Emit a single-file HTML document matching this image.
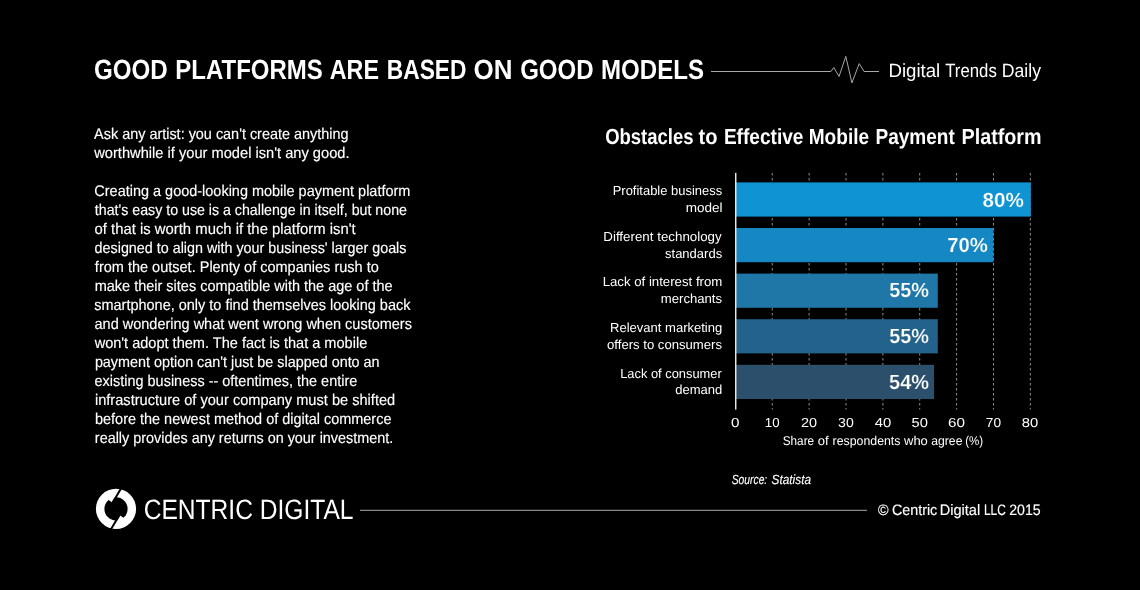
<!DOCTYPE html>
<html lang="en">
<head>
<meta charset="utf-8">
<title>Good Platforms Are Based on Good Models</title>
<style>
html,body{margin:0;padding:0;background:#000;}
body{width:1140px;height:590px;overflow:hidden;}
svg{display:block;}
text{font-family:"Liberation Sans", Arial, sans-serif;fill:#fff;white-space:pre;text-rendering:geometricPrecision;}
text.m{stroke:#fff;stroke-width:0.15px;}
</style>
</head>
<body>
<svg width="1140" height="590" viewBox="0 0 1140 590">
<rect width="1140" height="590" fill="#000"/>
<g id="header">
<text id="title" y="79.00" font-size="27.8" font-weight="bold"><tspan id="title_0" x="93.93" textLength="73.85" lengthAdjust="spacingAndGlyphs">GOOD</tspan> <tspan id="title_1" x="175.29" textLength="147.57" lengthAdjust="spacingAndGlyphs">PLATFORMS</tspan> <tspan id="title_2" x="329.70" textLength="49.27" lengthAdjust="spacingAndGlyphs">ARE</tspan> <tspan id="title_3" x="386.80" textLength="79.69" lengthAdjust="spacingAndGlyphs">BASED</tspan> <tspan id="title_4" x="473.50" textLength="38.92" lengthAdjust="spacingAndGlyphs">ON</tspan> <tspan id="title_5" x="520.13" textLength="73.52" lengthAdjust="spacingAndGlyphs">GOOD</tspan> <tspan id="title_6" x="601.01" textLength="103.04" lengthAdjust="spacingAndGlyphs">MODELS</tspan></text>
<polyline fill="none" stroke="#a8a8a8" stroke-width="1" stroke-linejoin="miter" points="711,71.5 830.9,71.5 833.8,67.5 839,76.5 845.8,56.4 851.9,82.9 859.2,63.6 864.1,71.5 879,71.5"/>
<text id="dtd" y="77.05" font-size="19.1" class="s"><tspan id="dtd_0" x="888.42" textLength="51.85" lengthAdjust="spacingAndGlyphs">Digital</tspan> <tspan id="dtd_1" x="945.24" textLength="51.55" lengthAdjust="spacingAndGlyphs">Trends</tspan> <tspan id="dtd_2" x="1001.82" textLength="39.15" lengthAdjust="spacingAndGlyphs">Daily</tspan></text>
</g>
<g id="article">
<text id="b0" x="94.10" y="138.85" font-size="15.4" textLength="254.40" lengthAdjust="spacingAndGlyphs" class="m">Ask any artist: you can't create anything</text>
<text id="b1" x="94.25" y="157.85" font-size="15.4" textLength="255.29" lengthAdjust="spacingAndGlyphs" class="m">worthwhile if your model isn't any good.</text>
<text id="b2" x="94.36" y="195.85" font-size="15.4" textLength="316.00" lengthAdjust="spacingAndGlyphs" class="m">Creating a good-looking mobile payment platform</text>
<text id="b3" x="94.82" y="214.85" font-size="15.4" textLength="312.15" lengthAdjust="spacingAndGlyphs" class="m">that's easy to use is a challenge in itself, but none</text>
<text id="b4" x="94.57" y="233.85" font-size="15.4" textLength="261.18" lengthAdjust="spacingAndGlyphs" class="m">of that is worth much if the platform isn't</text>
<text id="b5" x="94.62" y="252.85" font-size="15.4" textLength="311.84" lengthAdjust="spacingAndGlyphs" class="m">designed to align with your business' larger goals</text>
<text id="b6" x="94.85" y="271.85" font-size="15.4" textLength="283.93" lengthAdjust="spacingAndGlyphs" class="m">from the outset. Plenty of companies rush to</text>
<text id="b7" x="94.70" y="290.85" font-size="15.4" textLength="297.93" lengthAdjust="spacingAndGlyphs" class="m">make their sites compatible with the age of the</text>
<text id="b8" x="94.25" y="309.85" font-size="15.4" textLength="316.17" lengthAdjust="spacingAndGlyphs" class="m">smartphone, only to find themselves looking back</text>
<text id="b9" x="94.54" y="328.85" font-size="15.4" textLength="317.40" lengthAdjust="spacingAndGlyphs" class="m">and wondering what went wrong when customers</text>
<text id="b10" x="94.64" y="347.85" font-size="15.4" textLength="272.61" lengthAdjust="spacingAndGlyphs" class="m">won't adopt them. The fact is that a mobile</text>
<text id="b11" x="94.89" y="366.85" font-size="15.4" textLength="284.71" lengthAdjust="spacingAndGlyphs" class="m">payment option can't just be slapped onto an</text>
<text id="b12" x="94.56" y="385.85" font-size="15.4" textLength="262.73" lengthAdjust="spacingAndGlyphs" class="m">existing business -- oftentimes, the entire</text>
<text id="b13" x="94.95" y="404.85" font-size="15.4" textLength="300.27" lengthAdjust="spacingAndGlyphs" class="m">infrastructure of your company must be shifted</text>
<text id="b14" x="95.00" y="423.85" font-size="15.4" textLength="296.44" lengthAdjust="spacingAndGlyphs" class="m">before the newest method of digital commerce</text>
<text id="b15" x="94.86" y="442.85" font-size="15.4" textLength="298.37" lengthAdjust="spacingAndGlyphs" class="m">really provides any returns on your investment.</text>
</g>
<g id="chart">
<text id="ctitle" y="144.00" font-size="21.9" font-weight="bold"><tspan id="ctitle_0" x="605.19" textLength="88.31" lengthAdjust="spacingAndGlyphs">Obstacles</tspan> <tspan id="ctitle_1" x="698.60" textLength="18.96" lengthAdjust="spacingAndGlyphs">to</tspan> <tspan id="ctitle_2" x="723.90" textLength="79.57" lengthAdjust="spacingAndGlyphs">Effective</tspan> <tspan id="ctitle_3" x="808.72" textLength="60.38" lengthAdjust="spacingAndGlyphs">Mobile</tspan> <tspan id="ctitle_4" x="875.49" textLength="79.28" lengthAdjust="spacingAndGlyphs">Payment</tspan> <tspan id="ctitle_5" x="961.59" textLength="80.00" lengthAdjust="spacingAndGlyphs">Platform</tspan></text>
<path d="M772.25 173V409.5M809.12 173V409.5M845.99 173V409.5M882.86 173V409.5M919.73 173V409.5M956.60 173V409.5M993.47 173V409.5M1030.34 173V409.5" stroke="#fff" stroke-opacity="0.56" stroke-width="1" stroke-dasharray="2.5 2.5" fill="none"/>
<rect x="735.5" y="182.40" width="295.30" height="34.2" fill="#0f93d3"/>
<rect x="735.5" y="228.00" width="257.80" height="34.2" fill="#1587c3"/>
<rect x="735.5" y="273.60" width="202.30" height="34.2" fill="#1e77a7"/>
<rect x="735.5" y="319.20" width="202.30" height="34.2" fill="#23628a"/>
<rect x="735.5" y="364.80" width="198.60" height="34.2" fill="#2c506c"/>
<rect x="735" y="172.9" width="1.45" height="236.7" fill="#e8e8e8"/>
<text id="l0" x="612.71" y="195.00" font-size="13.1" textLength="109.47" lengthAdjust="spacingAndGlyphs" class="s">Profitable business</text>
<text id="l1" x="685.68" y="212.10" font-size="13.1" textLength="36.81" lengthAdjust="spacingAndGlyphs" class="s">model</text>
<text id="l2" x="603.30" y="241.10" font-size="13.1" textLength="118.43" lengthAdjust="spacingAndGlyphs" class="s">Different technology</text>
<text id="l3" x="665.04" y="258.10" font-size="13.1" textLength="57.11" lengthAdjust="spacingAndGlyphs" class="s">standards</text>
<text id="l4" x="602.63" y="286.00" font-size="13.1" textLength="119.70" lengthAdjust="spacingAndGlyphs" class="s">Lack of interest from</text>
<text id="l5" x="660.80" y="302.80" font-size="13.1" textLength="61.29" lengthAdjust="spacingAndGlyphs" class="s">merchants</text>
<text id="l6" x="610.02" y="332.00" font-size="13.1" textLength="112.24" lengthAdjust="spacingAndGlyphs" class="s">Relevant marketing</text>
<text id="l7" x="607.07" y="348.90" font-size="13.1" textLength="114.94" lengthAdjust="spacingAndGlyphs" class="s">offers to consumers</text>
<text id="l8" x="620.15" y="377.90" font-size="13.1" textLength="101.55" lengthAdjust="spacingAndGlyphs" class="s">Lack of consumer</text>
<text id="l9" x="675.26" y="393.90" font-size="13.1" textLength="46.96" lengthAdjust="spacingAndGlyphs" class="s">demand</text>
<text id="v0" x="982.64" y="206.90" font-size="20.5" textLength="41.29" lengthAdjust="spacingAndGlyphs" font-weight="bold" stroke="#0f93d3" stroke-width="0.22">80%</text>
<text id="v1" x="947.13" y="251.70" font-size="20.5" textLength="40.62" lengthAdjust="spacingAndGlyphs" font-weight="bold" stroke="#1587c3" stroke-width="0.22">70%</text>
<text id="v2" x="889.24" y="296.80" font-size="20.5" textLength="39.73" lengthAdjust="spacingAndGlyphs" font-weight="bold" stroke="#1e77a7" stroke-width="0.22">55%</text>
<text id="v3" x="889.31" y="342.80" font-size="20.5" textLength="39.70" lengthAdjust="spacingAndGlyphs" font-weight="bold" stroke="#23628a" stroke-width="0.22">55%</text>
<text id="v4" x="889.09" y="389.20" font-size="20.5" textLength="39.88" lengthAdjust="spacingAndGlyphs" font-weight="bold" stroke="#2c506c" stroke-width="0.22">54%</text>
<text id="t0" x="731.13" y="426.85" font-size="13.0" textLength="8.48" lengthAdjust="spacingAndGlyphs" class="s">0</text>
<text id="t1" x="764.83" y="426.85" font-size="13.0" textLength="14.76" lengthAdjust="spacingAndGlyphs" class="s">10</text>
<text id="t2" x="801.09" y="426.85" font-size="13.0" textLength="16.06" lengthAdjust="spacingAndGlyphs" class="s">20</text>
<text id="t3" x="838.11" y="426.85" font-size="13.0" textLength="15.62" lengthAdjust="spacingAndGlyphs" class="s">30</text>
<text id="t4" x="874.65" y="426.85" font-size="13.0" textLength="16.51" lengthAdjust="spacingAndGlyphs" class="s">40</text>
<text id="t5" x="911.52" y="426.85" font-size="13.0" textLength="16.37" lengthAdjust="spacingAndGlyphs" class="s">50</text>
<text id="t6" x="948.14" y="426.85" font-size="13.0" textLength="16.96" lengthAdjust="spacingAndGlyphs" class="s">60</text>
<text id="t7" x="985.88" y="426.85" font-size="13.0" textLength="15.20" lengthAdjust="spacingAndGlyphs" class="s">70</text>
<text id="t8" x="1021.83" y="426.85" font-size="13.0" textLength="16.49" lengthAdjust="spacingAndGlyphs" class="s">80</text>
<text id="xlab" y="444.90" font-size="12.7" class="s"><tspan id="xlab_0" x="782.73" textLength="31.36" lengthAdjust="spacingAndGlyphs">Share</tspan> <tspan id="xlab_1" x="817.89" textLength="10.84" lengthAdjust="spacingAndGlyphs">of</tspan> <tspan id="xlab_2" x="832.56" textLength="67.93" lengthAdjust="spacingAndGlyphs">respondents</tspan> <tspan id="xlab_3" x="904.02" textLength="23.83" lengthAdjust="spacingAndGlyphs">who</tspan> <tspan id="xlab_4" x="931.28" textLength="31.15" lengthAdjust="spacingAndGlyphs">agree</tspan> <tspan id="xlab_5" x="965.19" textLength="18.00" lengthAdjust="spacingAndGlyphs">(%)</tspan></text>
<text id="src" y="484.00" font-size="13.3" font-style="italic" class="m"><tspan id="src_0" x="731.69" textLength="35.55" lengthAdjust="spacingAndGlyphs">Source:</tspan> <tspan id="src_1" x="771.55" textLength="39.48" lengthAdjust="spacingAndGlyphs">Statista</tspan></text>
</g>
<g id="footer">
<circle cx="116" cy="508.9" r="20.1" fill="#fff"/>
<circle cx="116" cy="508.9" r="11.6" fill="#000"/>
<polygon points="108.39,499.83 111.69,502.27 115,496.7 110,496" fill="#fff"/>
<polygon points="123.61,517.97 120.31,515.53 117,521.1 122,521.8" fill="#fff"/>
<path d="M121.45 487.84L112 503.7M110.55 529.96L120 514.1" stroke="#000" stroke-width="2" fill="none"/>
<text id="logo" x="143.72" y="519.00" font-size="28.0" textLength="209.77" lengthAdjust="spacingAndGlyphs">CENTRIC DIGITAL</text>
<path d="M360 510.3H867" stroke="#a8a8a8" stroke-width="1" fill="none"/>
<text id="copy" y="515.00" font-size="15.1" class="m"><tspan id="copy_0" x="878.02" textLength="10.56" lengthAdjust="spacingAndGlyphs">©</tspan> <tspan id="copy_1" x="892.00" textLength="45.26" lengthAdjust="spacingAndGlyphs">Centric</tspan> <tspan id="copy_2" x="939.74" textLength="40.44" lengthAdjust="spacingAndGlyphs">Digital</tspan> <tspan id="copy_3" x="983.96" textLength="21.76" lengthAdjust="spacingAndGlyphs">LLC</tspan> <tspan id="copy_4" x="1009.20" textLength="31.49" lengthAdjust="spacingAndGlyphs">2015</tspan></text>
</g>
</svg>
</body>
</html>
